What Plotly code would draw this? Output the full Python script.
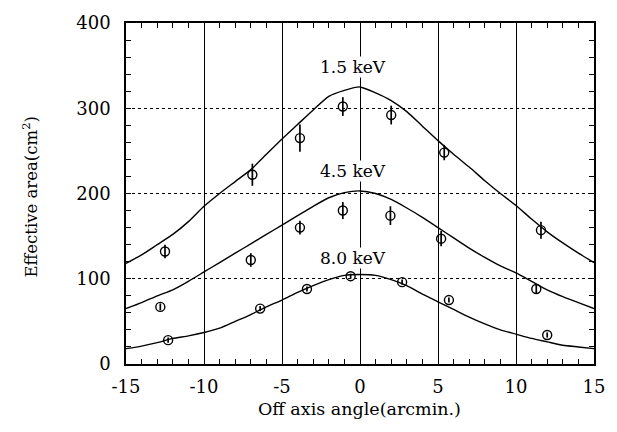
import plotly.graph_objects as go

# Model curves (off-axis angle in arcmin)
curve_x = list(range(-15, 16))
curve_15 = [118, 128, 140, 152, 167, 185, 200, 214, 228, 246, 264, 281, 298, 314, 321, 325,
            318, 309, 296, 279, 262, 246, 231, 215, 200, 186, 170, 155, 142, 130, 119]
curve_45 = [65, 72, 80, 87, 97, 108, 119, 130, 141, 152, 163, 174, 185, 195, 201, 203,
            200, 193, 183, 172, 160, 148, 136, 125, 115, 107, 97, 87, 79, 72, 65]
curve_80 = [18, 21, 25, 30, 33, 37, 42, 50, 58, 67, 75, 84, 92, 99, 104, 105,
            104, 99, 92, 82, 73, 64, 55, 47, 40, 35, 30, 26, 22, 20, 18]

# Measured points
pts15_x = [-12.5, -6.9, -3.85, -1.1, 2.0, 5.4, 11.6]
pts15_y = [132, 222, 265, 302, 292, 248, 157]
pts15_e = [8, 13, 16, 11, 11, 9, 10]

pts45_x = [-12.8, -7.0, -3.85, -1.1, 1.95, 5.2, 11.3]
pts45_y = [67, 122, 160, 180, 174, 147, 88]
pts45_e = [4, 8, 8, 10, 11, 9, 5]

pts80_x = [-12.3, -6.4, -3.4, -0.6, 2.7, 5.7, 12.0]
pts80_y = [28, 65, 88, 103, 96, 75, 34]
pts80_e = [3, 3, 3, 3, 3, 3, 3]

labels = ["1.5 keV", "4.5 keV", "8.0 keV"]
label_y = [348, 226, 124]

x_ticks = [-15, -10, -5, 0, 5, 10, 15]
x_ticktext = ["-15", "-10", "-5", "0", "5", "10", "15"]
y_ticks = [0, 100, 200, 300, 400]

FONT = "DejaVu Serif"

fig = go.Figure()
for cy in (curve_15, curve_45, curve_80):
    fig.add_trace(go.Scatter(x=curve_x, y=cy, mode="lines",
                             line=dict(color="black", width=1.4, shape="spline", smoothing=0.6),
                             showlegend=False, hoverinfo="skip"))
for px, py, pe in ((pts15_x, pts15_y, pts15_e), (pts45_x, pts45_y, pts45_e), (pts80_x, pts80_y, pts80_e)):
    fig.add_trace(go.Scatter(x=px, y=py, mode="markers",
                             marker=dict(symbol="circle-open", size=9, color="black", line=dict(width=1.4, color="black")),
                             error_y=dict(type="data", array=pe, visible=True, color="black", thickness=1.7, width=0),
                             showlegend=False))

for txt, ly in zip(labels, label_y):
    fig.add_annotation(x=-0.45, y=ly, xref="x", yref="y", text=txt, showarrow=False,
                       font=dict(family=FONT, size=17, color="black"),
                       bgcolor="white", borderpad=0)

fig.add_annotation(x=0.499, y=-0.133, xref="paper", yref="paper", text="Off axis angle(arcmin.)",
                   showarrow=False, font=dict(family=FONT, size=17.5, color="black"),
                   xanchor="center", yanchor="middle")
fig.add_annotation(x=-0.206, y=0.49, xref="paper", yref="paper", text="Effective area(cm<sup>2</sup>)",
                   showarrow=False, textangle=-90, font=dict(family=FONT, size=16.5, color="black"),
                   xanchor="center", yanchor="middle")

fig.update_layout(
    width=617, height=432,
    margin=dict(l=126, r=12, t=18, b=68),
    paper_bgcolor="white", plot_bgcolor="white",
    font=dict(family=FONT, size=18, color="black"),
    showlegend=False,
)
fig.update_xaxes(range=[-15, 15], tickvals=x_ticks, ticktext=x_ticktext,
                 showline=True, linecolor="black", linewidth=1.5, mirror="allticks",
                 ticks="inside", ticklen=5, tickcolor="black", tickwidth=1.2,
                 showgrid=True, gridcolor="black", gridwidth=1.1,
                 zeroline=False, ticklabelstandoff=6,
                 minor=dict(dtick=1, ticks="inside", ticklen=5, tickcolor="black", tickwidth=1.2, showgrid=False),
                 tickfont=dict(family=FONT, size=18, color="black"))
fig.update_yaxes(range=[0, 400], tickvals=y_ticks,
                 showline=True, linecolor="black", linewidth=1.5, mirror="allticks",
                 ticks="inside", ticklen=5, tickcolor="black", tickwidth=1.2,
                 showgrid=True, gridcolor="black", gridwidth=1, griddash="dot",
                 zeroline=False, ticklabelstandoff=10,
                 minor=dict(dtick=20, ticks="inside", ticklen=5, tickcolor="black", tickwidth=1.2, showgrid=False),
                 tickfont=dict(family=FONT, size=18, color="black"))

fig.write_html("out.html", config={"displayModeBar": False},
               post_script="document.body.style.margin='0px';document.body.style.overflow='hidden';")
